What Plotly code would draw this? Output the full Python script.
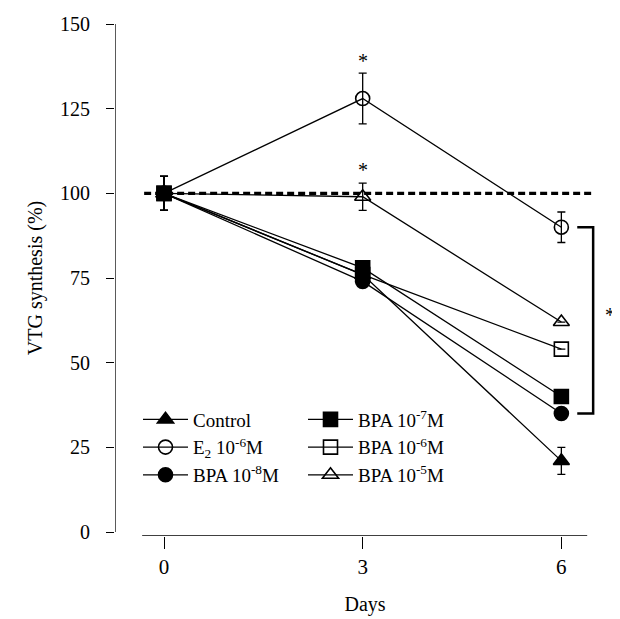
import plotly.graph_objects as go

days = [0, 3, 6]

series_names = ["Control", "E<sub>2</sub> 10<sup>-6</sup>M", "BPA 10<sup>-8</sup>M",
                "BPA 10<sup>-7</sup>M", "BPA 10<sup>-6</sup>M", "BPA 10<sup>-5</sup>M"]
control = [100, 76, 21]
e2 = [100, 128, 90]
bpa_8 = [100, 74, 35]
bpa_7 = [100, 78, 40]
bpa_6 = [100, 76, 54]
bpa_5 = [100, 99, 62]

control_err = [5, 0, 4]
e2_err = [5, 7.5, 4.5]
bpa_8_err = [5, 0, 0]
bpa_7_err = [5, 0, 0]
bpa_6_err = [5, 0, 0]
bpa_5_err = [5, 4, 0]

symbols = ["triangle-up", "circle-open", "circle", "square", "square-open", "triangle-up-open"]
values = [control, e2, bpa_8, bpa_7, bpa_6, bpa_5]
errors = [control_err, e2_err, bpa_8_err, bpa_7_err, bpa_6_err, bpa_5_err]
legends = ["legend", "legend", "legend", "legend2", "legend2", "legend2"]

FONT = "Liberation Serif"

fig = go.Figure()

# reference 100% dashed line
fig.add_trace(go.Scatter(x=[-0.3, 6.5], y=[100, 100], mode="lines",
                         line=dict(color="black", width=3.2, dash="7px,4px"),
                         showlegend=False, hoverinfo="skip"))

order = [1, 5, 4, 0, 2, 3]
for i in order:
    fig.add_trace(go.Scatter(
        x=days, y=values[i], name=series_names[i], mode="lines+markers",
        line=dict(color="black", width=1.3),
        marker=dict(symbol=symbols[i], size=14, color="black",
                    line=dict(color="black", width=1.6)),
        error_y=dict(type="data", array=errors[i], visible=True,
                     color="black", thickness=1.3, width=4),
        legend=legends[i], legendrank=i,
    ))

# axis lines
fig.add_shape(type="line", xref="x", yref="y", x0=-0.74, x1=-0.74, y0=0, y1=150,
              line=dict(color="black", width=1.3))
fig.add_shape(type="line", xref="x", yref="y", x0=-0.33, x1=6.39, y0=-1.18, y1=-1.18,
              line=dict(color="black", width=1.5))

# significance bracket
fig.add_shape(type="path", xref="x", yref="y",
              path="M 6.24 90 L 6.48 90 L 6.48 35 L 6.24 35",
              line=dict(color="black", width=2.5))

stars = [(3, 139), (3, 107), (6.74, 64)]
for sx, sy in stars:
    fig.add_annotation(x=sx, y=sy, text="*", showarrow=False, xref="x", yref="y",
                       font=dict(family=FONT, size=20, color="black"))

fig.update_layout(
    width=612, height=611,
    margin=dict(l=107, r=5, t=10, b=83),
    paper_bgcolor="white", plot_bgcolor="white",
    font=dict(family=FONT, size=19, color="black"),
    xaxis=dict(range=[-0.74, 6.81], tickvals=days, ticktext=["0", "3", "6"],
               ticks="outside", ticklen=12, tickwidth=1.3, tickcolor="black",
               showline=False, showgrid=False, zeroline=False,
               tickfont=dict(family=FONT, size=21),
               title=dict(text="Days", font=dict(family=FONT, size=20), standoff=18)),
    yaxis=dict(range=[-1.18, 151.2], tickvals=[0, 25, 50, 75, 100, 125, 150],
               ticks="outside", ticklen=8, tickwidth=1.3, tickcolor="black",
               ticklabelstandoff=12,
               showline=False, showgrid=False, zeroline=False,
               tickfont=dict(family=FONT, size=20),
               title=dict(text="VTG synthesis (%)", font=dict(family=FONT, size=20), standoff=12)),
    legend=dict(x=(138 - 115) / 500, y=(536 - 400) / 518, xanchor="left", yanchor="top",
                bgcolor="rgba(0,0,0,0)", font=dict(family=FONT, size=19),
                itemwidth=45, tracegroupgap=0),
    legend2=dict(x=(303 - 115) / 500, y=(536 - 400) / 518, xanchor="left", yanchor="top",
                 bgcolor="rgba(0,0,0,0)", font=dict(family=FONT, size=19),
                 itemwidth=45, tracegroupgap=0),
    showlegend=True,
)

fig.write_html("out.html")
